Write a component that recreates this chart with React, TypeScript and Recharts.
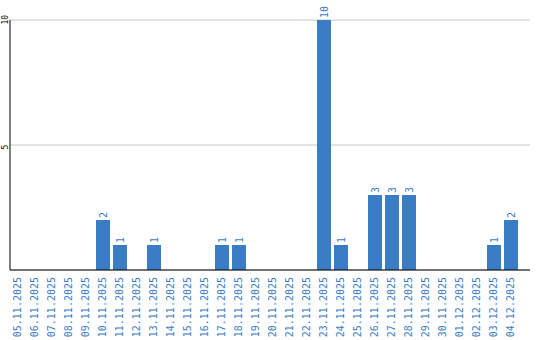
import React from "react";
import { Bar, BarChart, CartesianGrid, LabelList, XAxis, YAxis } from "recharts";

const days = [
  "05.11.2025", "06.11.2025", "07.11.2025", "08.11.2025", "09.11.2025",
  "10.11.2025", "11.11.2025", "12.11.2025", "13.11.2025", "14.11.2025",
  "15.11.2025", "16.11.2025", "17.11.2025", "18.11.2025", "19.11.2025",
  "20.11.2025", "21.11.2025", "22.11.2025", "23.11.2025", "24.11.2025",
  "25.11.2025", "26.11.2025", "27.11.2025", "28.11.2025", "29.11.2025",
  "30.11.2025", "01.12.2025", "02.12.2025", "03.12.2025", "04.12.2025",
];

const counts = [
  0, 0, 0, 0, 0,
  2, 1, 0, 1, 0,
  0, 0, 1, 1, 0,
  0, 0, 0, 10, 1,
  0, 3, 3, 3, 0,
  0, 0, 0, 1, 2,
];

const yTicks = [5, 10];

const BLUE = "#3b7dc4";
const FONT = "'DejaVu Sans Mono', monospace";

const data = days.map((day, i) => ({ day, count: counts[i] }));

const DayTick = (props: any) => {
  const { x, y, payload } = props;
  const tx = x + 3.5;
  const ty = y + 7;
  return (
    <text
      x={tx}
      y={ty}
      transform={`rotate(-90, ${tx}, ${ty})`}
      textAnchor="end"
      fill={BLUE}
      fontSize={10}
      fontFamily={FONT}
    >
      {payload.value}
    </text>
  );
};

const CountTick = (props: any) => {
  const { x, y, payload } = props;
  const tx = x - 2;
  const ty = y + 4.5;
  return (
    <text
      x={tx}
      y={ty}
      transform={`rotate(-90, ${tx}, ${ty})`}
      textAnchor="start"
      fill="#000"
      fontSize={8}
      fontFamily={FONT}
    >
      {payload.value}
    </text>
  );
};

const ValueLabel = (props: any) => {
  const { x, y, width, value } = props;
  if (!value) return null;
  const tx = x + width / 2 + 3.5;
  const ty = y - 2;
  return (
    <text
      x={tx}
      y={ty}
      transform={`rotate(-90, ${tx}, ${ty})`}
      textAnchor="start"
      fill={BLUE}
      fontSize={10}
      fontFamily={FONT}
    >
      {value}
    </text>
  );
};

export default function App() {
  return (
    <div style={{ position: "absolute", left: 0, top: 0, background: "#fff" }}>
      <BarChart
        width={540}
        height={340}
        data={data}
        margin={{ top: 20, right: 10, left: 0, bottom: 0 }}
        barSize={14}
      >
        <CartesianGrid vertical={false} stroke="#c8c8c8" />
        <XAxis
          dataKey="day"
          interval={0}
          height={70}
          tickLine={false}
          tickSize={0}
          tickMargin={0}
          padding={{ left: -1, right: 11 }}
          axisLine={{ stroke: "#000" }}
          tick={<DayTick />}
        />
        <YAxis
          width={10}
          domain={[0, 10]}
          ticks={yTicks}
          tickLine={false}
          tickSize={0}
          tickMargin={0}
          axisLine={{ stroke: "#000" }}
          tick={<CountTick />}
        />
        <Bar dataKey="count" fill={BLUE} isAnimationActive={false}>
          <LabelList dataKey="count" content={<ValueLabel />} />
        </Bar>
      </BarChart>
    </div>
  );
}
